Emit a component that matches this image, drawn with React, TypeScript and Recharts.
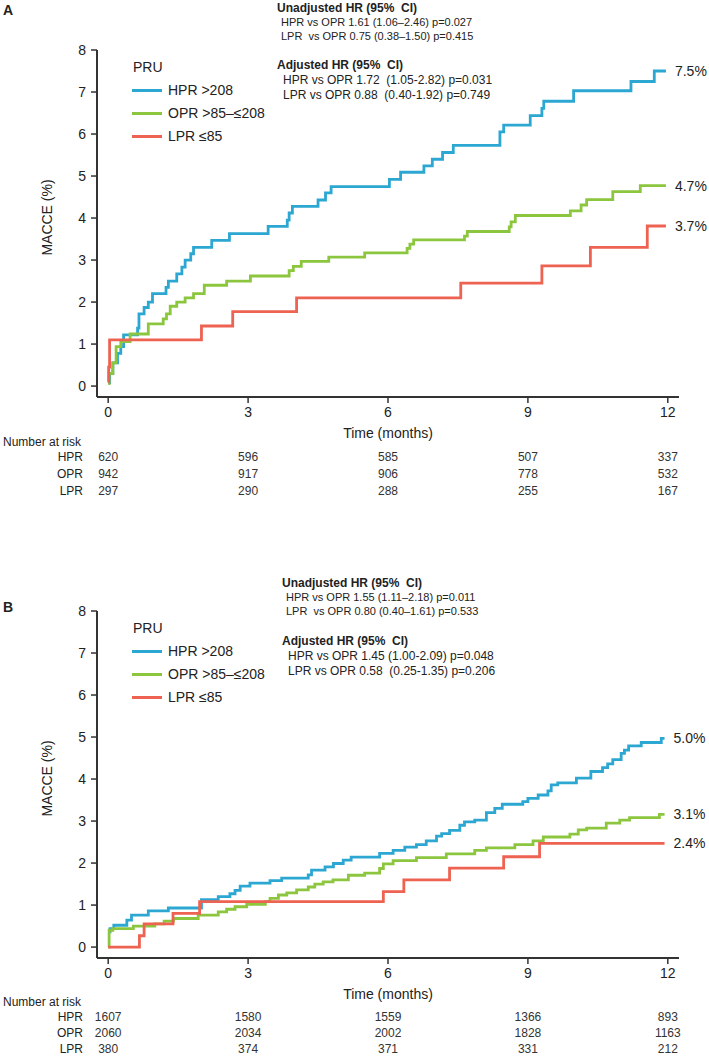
import React from 'react';
import { LineChart, Line, XAxis, YAxis } from 'recharts';

// time (months), cumulative MACCE (%) — step points
const aHpr = [[0,0.08],[0.03,0.3],[0.1,0.55],[0.2,0.78],[0.27,0.94],[0.33,1.22],[0.63,1.38],[0.66,1.72],[0.77,1.87],[0.86,2.0],[0.95,2.2],[1.24,2.35],[1.29,2.5],[1.47,2.67],[1.58,2.83],[1.65,3.0],[1.77,3.15],[1.83,3.3],[2.22,3.47],[2.6,3.63],[3.43,3.8],[3.84,3.95],[3.88,4.12],[3.95,4.28],[4.5,4.43],[4.66,4.6],[4.78,4.75],[6.03,4.92],[6.27,5.09],[6.77,5.24],[6.95,5.4],[7.17,5.56],[7.4,5.73],[8.4,6.05],[8.48,6.21],[9.05,6.44],[9.3,6.61],[9.34,6.78],[9.98,7.03],[11.21,7.25],[11.71,7.5],[11.96,7.5]];
const aOpr = [[0,0.06],[0.02,0.3],[0.1,0.55],[0.17,0.94],[0.27,1.06],[0.47,1.24],[0.86,1.48],[1.18,1.6],[1.25,1.72],[1.33,1.9],[1.47,2.0],[1.65,2.1],[1.83,2.2],[2.06,2.4],[2.54,2.5],[3.05,2.62],[3.88,2.75],[3.97,2.85],[4.14,2.97],[4.73,3.07],[5.5,3.17],[6.41,3.28],[6.47,3.38],[6.55,3.48],[7.64,3.57],[7.7,3.68],[8.6,3.79],[8.64,3.91],[8.73,4.06],[9.91,4.17],[10.14,4.31],[10.26,4.44],[10.82,4.63],[11.41,4.77],[11.96,4.77]];
const aLpr = [[0,0.1],[0.01,0.45],[0.03,1.1],[2.0,1.43],[2.67,1.77],[4.04,2.1],[7.56,2.45],[9.3,2.86],[10.34,3.3],[11.56,3.81],[11.96,3.81]];

const bHpr = [[0,0.36],[0.04,0.44],[0.12,0.52],[0.4,0.64],[0.5,0.76],[0.86,0.86],[1.29,0.93],[2.0,1.13],[2.36,1.2],[2.61,1.27],[2.72,1.35],[2.83,1.45],[3.04,1.52],[3.47,1.58],[3.72,1.64],[4.29,1.72],[4.36,1.83],[4.65,1.91],[4.83,1.99],[5.04,2.07],[5.21,2.14],[5.82,2.23],[6.11,2.3],[6.36,2.38],[6.61,2.44],[6.82,2.53],[7.04,2.64],[7.15,2.7],[7.32,2.78],[7.54,2.9],[7.64,2.98],[7.86,3.02],[8.11,3.2],[8.29,3.3],[8.45,3.4],[8.89,3.46],[9.0,3.54],[9.22,3.62],[9.43,3.72],[9.5,3.86],[9.64,3.91],[10.04,4.02],[10.35,4.18],[10.6,4.27],[10.71,4.36],[10.82,4.46],[11.0,4.61],[11.07,4.69],[11.16,4.79],[11.43,4.87],[11.86,4.97],[11.93,4.97]];
const bOpr = [[0,0],[0.02,0.4],[0.1,0.44],[0.54,0.5],[1.0,0.55],[1.2,0.62],[1.4,0.68],[1.93,0.76],[2.36,0.84],[2.54,0.9],[2.72,0.96],[2.97,1.02],[3.37,1.08],[3.47,1.16],[3.65,1.24],[3.83,1.29],[4.04,1.36],[4.29,1.43],[4.43,1.5],[4.61,1.55],[4.82,1.6],[5.15,1.71],[5.5,1.76],[5.82,1.87],[5.9,1.98],[6.11,2.06],[6.61,2.13],[7.25,2.22],[7.86,2.3],[8.11,2.36],[8.72,2.44],[9.11,2.53],[9.33,2.62],[9.9,2.69],[10.08,2.79],[10.26,2.83],[10.68,2.95],[10.97,3.02],[11.18,3.08],[11.82,3.16],[11.93,3.16]];
const bLpr = [[0,0],[0.67,0.27],[0.77,0.55],[1.39,0.8],[1.96,1.08],[5.9,1.32],[6.34,1.6],[7.32,1.88],[8.48,2.15],[9.25,2.47],[11.93,2.47]];

const aEnd = ['7.5%', '4.7%', '3.7%'];
const bEnd = ['5.0%', '3.1%', '2.4%'];

const timeTicks = [0, 3, 6, 9, 12];
const maccTicks = [0, 1, 2, 3, 4, 5, 6, 7, 8];
const groups = ['HPR', 'OPR', 'LPR'];
const legendNames = ['HPR >208', 'OPR >85–≤208', 'LPR ≤85'];

const aRisk = [[620, 596, 585, 507, 337], [942, 917, 906, 778, 532], [297, 290, 288, 255, 167]];
const bRisk = [[1607, 1580, 1559, 1366, 893], [2060, 2034, 2002, 1828, 1163], [380, 374, 371, 331, 212]];

const aUnadj = ['HPR vs OPR 1.61 (1.06–2.46) p=0.027', 'LPR  vs OPR 0.75 (0.38–1.50) p=0.415'];
const aAdj = ['HPR vs OPR 1.72  (1.05-2.82) p=0.031', 'LPR vs OPR 0.88  (0.40-1.92) p=0.749'];
const bUnadj = ['HPR vs OPR 1.55 (1.11–2.18) p=0.011', 'LPR  vs OPR 0.80 (0.40–1.61) p=0.533'];
const bAdj = ['HPR vs OPR 1.45 (1.00-2.09) p=0.048', 'LPR vs OPR 0.58  (0.25-1.35) p=0.206'];

const colors = ['#2ca7d2', '#8cc63f', '#ee6252'];
const ink = '#333';

const toRows = (pts: number[][]) => pts.map(([t, v]) => ({ t, v }));

function Txt({ x, y, size = 12, bold = false, right = false, center = false, rotate = false, children }: any) {
  const lh = Math.round(size * 1.2);
  let tf = right ? 'translateX(-100%)' : center ? 'translateX(-50%)' : '';
  if (rotate) tf = 'translate(-50%, 0) rotate(-90deg)';
  return (
    <div style={{ position: 'absolute', left: x, top: y - lh / 2, fontSize: size, lineHeight: lh + 'px', fontWeight: bold ? 700 : 400, whiteSpace: 'pre', color: '#222', transform: tf, transformOrigin: rotate ? '50% 50%' : undefined }}>
      {children}
    </div>
  );
}

function Panel({ top, letter, series, ends, risk, unadj, adj, unadjY, adjY, annoX, riskY, riskGap }: any) {
  const renderTick = (p: any) => {
    const { x, y, payload } = p;
    const i = timeTicks.indexOf(payload.value);
    const axisY = y - 8;
    return (
      <g>
        <text x={x} y={axisY + 15} textAnchor="middle" dominantBaseline="central" fontSize={14} fill="#222">{payload.value}</text>
        {risk.map((row: number[], r: number) => (
          <text key={r} x={x} y={riskY + r * riskGap} textAnchor="middle" dominantBaseline="central" fontSize={12} fill="#333">{row[i]}</text>
        ))}
      </g>
    );
  };

  const endLabel = (s: number) => (p: any) => {
    if (p.index !== series[s].length - 1) return null;
    return <text x={p.x + 9} y={p.y} dominantBaseline="central" fontSize={14} fill="#222">{ends[s]}</text>;
  };

  return (
    <div style={{ position: 'absolute', left: 0, top, width: 709, height: 500 }}>
      <LineChart width={709} height={500} margin={{ top: 50, right: 30, left: 37, bottom: 73 }}>
        <XAxis type="number" dataKey="t" domain={[-0.24, 12.24]} ticks={timeTicks} allowDataOverflow height={30}
          axisLine={{ stroke: ink, strokeWidth: 2 }} tickLine={{ stroke: ink, strokeWidth: 1.5 }} tickSize={6} tickMargin={2} tick={renderTick} />
        <YAxis type="number" dataKey="v" domain={[-0.26, 8]} ticks={maccTicks} allowDataOverflow width={60}
          axisLine={{ stroke: ink, strokeWidth: 2 }} tickLine={{ stroke: ink, strokeWidth: 1.5 }} tickSize={6} tickMargin={5}
          tick={{ fill: '#222', fontSize: 14 }} />
        {series.map((pts: number[][], s: number) => (
          <Line key={s} data={toRows(pts)} dataKey="v" type="stepAfter" stroke={colors[s]} strokeWidth={2.8}
            dot={false} activeDot={false} isAnimationActive={false} label={endLabel(s)} />
        ))}
      </LineChart>

      <Txt x={3} y={letter === 'A' ? 10 : 46} size={14} bold>{letter}</Txt>
      <Txt x={47} y={217} size={14} rotate>MACCE (%)</Txt>
      <Txt x={388} y={433} size={14} center>Time (months)</Txt>
      <Txt x={3} y={riskY - 15} size={12}>Number at risk</Txt>
      {groups.map((g, r) => (
        <Txt key={g} x={83} y={riskY + r * riskGap} size={12} right>{g}</Txt>
      ))}

      <Txt x={133} y={67} size={14}>PRU</Txt>
      {legendNames.map((n, r) => (
        <React.Fragment key={n}>
          <div style={{ position: 'absolute', left: 132, top: 90 + r * 23 - 1.5, width: 30, height: 3, background: colors[r] }} />
          <Txt x={168} y={90 + r * 23} size={14}>{n}</Txt>
        </React.Fragment>
      ))}

      <Txt x={annoX} y={unadjY} size={12} bold>Unadjusted HR (95%  CI)</Txt>
      {unadj.map((l: string, r: number) => (
        <Txt key={l} x={annoX + 4} y={unadjY + 14 + r * 14} size={11}>{l}</Txt>
      ))}
      <Txt x={annoX} y={adjY} size={12} bold>Adjusted HR (95%  CI)</Txt>
      {adj.map((l: string, r: number) => (
        <Txt key={l} x={annoX + 6} y={adjY + 15 + r * 14.5} size={12}>{l}</Txt>
      ))}
    </div>
  );
}

export default function App() {
  return (
    <div style={{ position: 'absolute', left: 0, top: 0, width: 709, height: 1057, overflow: 'hidden', background: '#fff', fontFamily: '"Liberation Sans", Arial, sans-serif' }}>
      <Panel top={0} letter="A" series={[aHpr, aOpr, aLpr]} ends={aEnd} risk={aRisk}
        unadj={aUnadj} adj={aAdj} unadjY={8} adjY={65} annoX={277} riskY={457} riskGap={17} />
      <Panel top={561} letter="B" series={[bHpr, bOpr, bLpr]} ends={bEnd} risk={bRisk}
        unadj={bUnadj} adj={bAdj} unadjY={22} adjY={80} annoX={282} riskY={456} riskGap={16} />
    </div>
  );
}
